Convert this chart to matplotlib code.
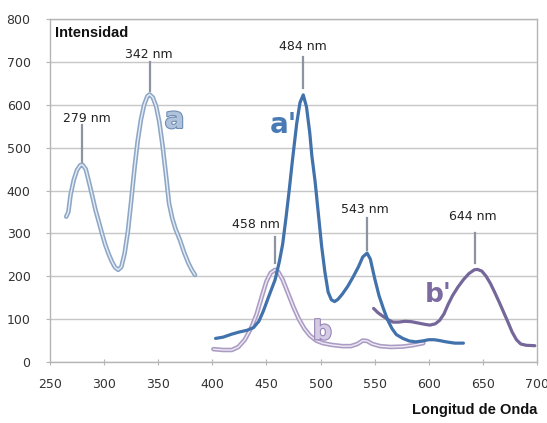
import matplotlib
matplotlib.use("Agg")
import matplotlib.pyplot as plt
import matplotlib.patheffects as pe

# ---- data ----
a_wl = [265, 267, 269, 272, 275, 278, 280, 283, 286, 289, 292, 295, 298, 301, 304, 307, 310, 313,
        316, 319, 322, 325, 328, 331, 334, 337, 340, 342, 345, 348, 351, 354, 357, 360, 363, 366,
        370, 374, 378, 381, 384]
a_int = [339, 350, 390, 425, 448, 459, 460, 450, 420, 388, 355, 328, 300, 274, 253, 235, 221, 215,
         222, 254, 305, 375, 450, 515, 565, 600, 620, 624, 617, 597, 560, 505, 440, 370, 335, 310,
         285, 255, 230, 215, 203]

ap_wl = [403, 410, 418, 425, 432, 438, 443, 447, 452, 458, 462, 465, 468, 471, 474, 478, 481, 484,
         487, 490, 492, 495, 498, 501, 504, 507, 510, 513, 516, 520, 525, 530, 535, 539, 543, 546,
         550, 554, 558, 562, 566, 570, 576, 582, 588, 594, 600, 605, 610, 616, 624, 632]
ap_int = [55, 58, 65, 70, 74, 80, 95, 118, 152, 192, 235, 275, 335, 400, 470, 557, 605, 623,
          595, 535, 480, 420, 345, 270, 210, 163, 145, 141, 146, 158, 176, 198, 222, 245, 254, 240,
          195, 155, 125, 98, 78, 64, 55, 49, 47, 49, 52, 52, 50, 47, 44, 44]

b_wl = [401, 410, 418, 424, 430, 436, 441, 446, 450, 454, 458, 461, 465, 470, 475, 480, 485, 490,
        496, 502, 510, 520, 528, 534, 539, 543, 548, 555, 565, 576, 585, 595]
b_int = [30, 28, 28, 35, 52, 80, 112, 155, 188, 208, 215, 210, 192, 160, 128, 100, 78, 62,
         50, 44, 40, 37, 37, 42, 50, 49, 42, 37, 35, 36, 39, 44]

bp_wl = [549, 553, 558, 563, 567, 572, 578, 584, 590, 596, 601, 606, 610, 614, 618, 622, 627, 632,
         637, 642, 645, 649, 653, 657, 661, 665, 669, 673, 677, 681, 685, 690, 698]
bp_int = [125, 115, 106, 98, 93, 93, 95, 94, 91, 88, 86, 89, 97, 112, 135, 155, 175, 192,
          206, 215, 216, 212, 200, 183, 162, 140, 117, 94, 70, 52, 42, 39, 38]

# peak annotations: text, marker wavelength, line bottom, line top, label x, label y
peak_labels = ["279 nm", "342 nm", "484 nm", "458 nm", "543 nm", "644 nm"]
peak_wl = [279.6, 342, 484, 458, 542.6, 642.7]
peak_lo = [467, 632, 638, 230, 261, 230]
peak_hi = [553, 700, 711, 292, 336, 300]
label_x = [283.7, 341.5, 483.3, 440.4, 541, 640.4]
label_y = [568, 718, 737, 320, 355, 339]

x_ticks = [250, 300, 350, 400, 450, 500, 550, 600, 650, 700]
y_ticks = [0, 100, 200, 300, 400, 500, 600, 700, 800]

# ---- figure ----
fig = plt.figure(figsize=(5.47, 4.23), dpi=100)
ax = fig.add_axes([50 / 547, 61 / 423, 487 / 547, 343 / 423])
ax.set_xlim(250, 700)
ax.set_ylim(0, 800)

grid_c = "#C6C6C6"
ax.set_yticks(y_ticks)
ax.set_xticks(x_ticks)
ax.yaxis.grid(True, color=grid_c, lw=1.0)
ax.set_axisbelow(True)
for s in ax.spines.values():
    s.set_color("#B5B5B5")
    s.set_linewidth(1.0)
ax.tick_params(axis="x", direction="inout", length=5, color="#B5B5B5", pad=9,
               labelsize=9, labelcolor="#333333")
ax.tick_params(axis="y", direction="out", length=3, color="#B5B5B5", pad=11,
               labelsize=9, labelcolor="#333333")

# curve a (hollow light blue)
ax.plot(a_wl, a_int, color="#8EA7C7", lw=3.3, solid_capstyle="round", zorder=3)
ax.plot(a_wl, a_int, color="#E6EDF5", lw=1.0, solid_capstyle="round", zorder=3.1)
# curve b (hollow lavender)
ax.plot(b_wl, b_int, color="#AB9CC4", lw=3.3, solid_capstyle="round", zorder=3)
ax.plot(b_wl, b_int, color="#EFEAF5", lw=1.0, solid_capstyle="round", zorder=3.1)
# curve b' (solid purple)
ax.plot(bp_wl, bp_int, color="#76679B", lw=2.3, solid_capstyle="round", zorder=4)
# curve a' (solid blue)
ax.plot(ap_wl, ap_int, color="#4172AC", lw=2.3, solid_capstyle="round", zorder=5)

# peak markers
for t, xw, lo, hi, lx, ly in zip(peak_labels, peak_wl, peak_lo, peak_hi, label_x, label_y):
    ax.plot([xw, xw], [lo, hi], color="#8E93A0", lw=1.6, zorder=2.5)
    ax.text(lx, ly, t, ha="center", va="center", fontsize=9, color="#222222",
            family="DejaVu Sans", zorder=6)

# curve letters
ax.text(356, 546, "a", fontsize=21, fontweight="bold", color="#AFC3DC", ha="left",
        va="baseline", zorder=6,
        path_effects=[pe.withStroke(linewidth=1.6, foreground="#6F8DB5")])
ax.text(453, 533, "a'", fontsize=20, fontweight="bold", color="#4A7AB4", ha="left",
        va="baseline", zorder=6)
ax.text(493, 53, "b", fontsize=19, fontweight="bold", color="#D5CBE4", ha="left",
        va="baseline", zorder=6,
        path_effects=[pe.withStroke(linewidth=1.6, foreground="#9686B5")])
ax.text(596.5, 140, "b'", fontsize=19, fontweight="bold", color="#7B6BA0", ha="left",
        va="baseline", zorder=6)

# axis titles
ax.text(255, 767, "Intensidad", ha="left", va="center", fontsize=10.5,
        fontweight="bold", family="Liberation Sans", color="#111111", zorder=6)
fig.text(475 / 547, 1 - 410 / 423, "Longitud de Onda", ha="center", va="center",
         fontsize=10.5, fontweight="bold", family="Liberation Sans", color="#111111")

fig.savefig("out.png", dpi=100, facecolor="white")
